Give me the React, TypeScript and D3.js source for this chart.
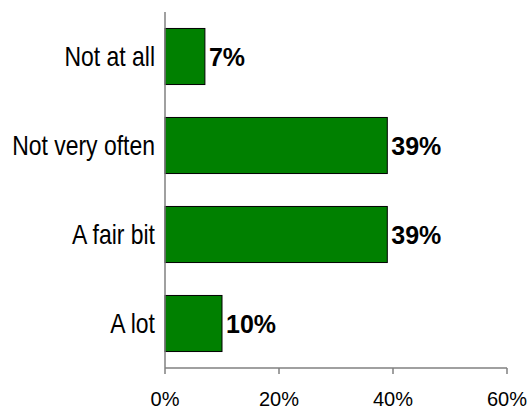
import React from "react";
import * as d3 from "d3";

const categories: string[] = ["Not at all", "Not very often", "A fair bit", "A lot"];
const values: number[] = [7, 39, 39, 10];
const ticks: number[] = [0, 20, 40, 60];

const width = 529;
const height = 410;
const margin = { top: 12, right: 22, bottom: 42, left: 165 };

const App = () => {
  const x = d3
    .scaleLinear()
    .domain([0, 60])
    .range([margin.left, margin.left + 342]);
  const y = d3
    .scaleBand()
    .domain(categories)
    .range([margin.top, height - margin.bottom])
    .paddingInner(0.37)
    .paddingOuter(0.185);

  const axisY = height - margin.bottom;

  return (
    <svg
      width={width}
      height={height}
      style={{ position: "absolute", left: 0, top: 0, background: "#fff" }}
    >
      {/* bars */}
      {categories.map((c, i) => (
        <g key={c}>
          <rect
            x={x(0)}
            y={y(c)}
            width={x(values[i]) - x(0)}
            height={y.bandwidth()}
            fill="#008000"
            stroke="#000"
            strokeWidth={1}
          />
          <text
            x={x(values[i]) + 4}
            y={(y(c) as number) + y.bandwidth() / 2 + 9}
            fontFamily="'Liberation Sans', Arial, sans-serif"
            fontWeight="bold"
            fontSize={25}
            fill="#000"
          >
            {values[i]}%
          </text>
          {/* narrow look: arial squeezed sideways */}
          <text
            transform={`translate(${x(0) - 10},${(y(c) as number) + y.bandwidth() / 2 + 9.5}) scale(0.82,1)`}
            textAnchor="end"
            fontFamily="'Liberation Sans', Arial, sans-serif"
            fontSize={28}
            fill="#000"
          >
            {c}
          </text>
        </g>
      ))}

      {/* y axis line */}
      <line x1={x(0)} x2={x(0)} y1={margin.top} y2={axisY} stroke="#808080" strokeWidth={1.5} />
      {/* x axis */}
      <line x1={x(0)} x2={x(60)} y1={axisY} y2={axisY} stroke="#808080" strokeWidth={1.5} />
      {ticks.map((t) => (
        <g key={t}>
          <line x1={x(t)} x2={x(t)} y1={axisY} y2={axisY + 6} stroke="#808080" strokeWidth={1.5} />
          <text
            x={x(t)}
            y={axisY + 38}
            textAnchor="middle"
            fontFamily="'Liberation Sans', Arial, sans-serif"
            fontSize={20}
            fill="#000"
          >
            {t}%
          </text>
        </g>
      ))}
    </svg>
  );
};

export default App;
